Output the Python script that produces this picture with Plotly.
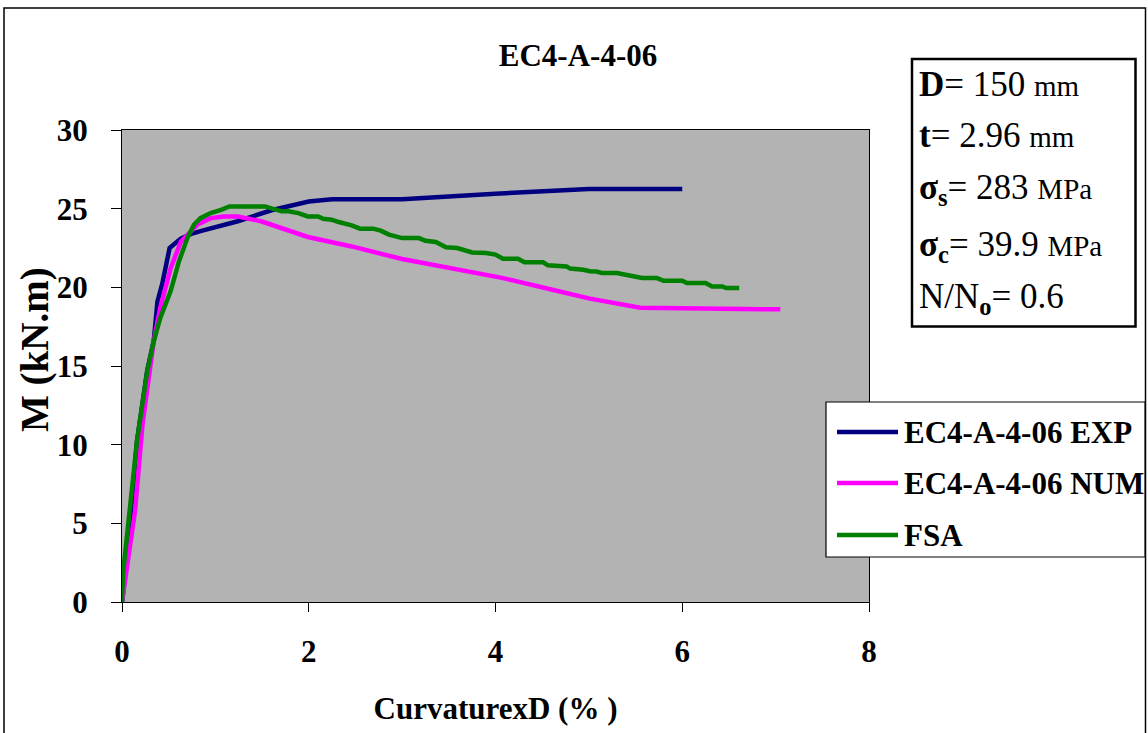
import plotly.graph_objects as go

# ---- data ----
x_exp = [0, 0.05, 0.16, 0.27, 0.34, 0.38, 0.43, 0.51, 0.63, 0.74, 0.86, 0.99, 1.24, 1.6, 2.0, 2.25, 3.0, 4.0, 5.0, 6.0]
y_exp = [0, 2.5, 10.2, 14.7, 16.6, 19.1, 20.2, 22.5, 23.1, 23.4, 23.6, 23.8, 24.2, 24.9, 25.45, 25.6, 25.6, 25.95, 26.25, 26.25]

x_num = [0, 0.14, 0.22, 0.34, 0.41, 0.52, 0.63, 0.81, 0.95, 1.09, 1.24, 1.49, 1.99, 2.46, 3.0, 3.54, 4.07, 4.61, 5.0, 5.55, 6.05, 7.05]
y_num = [0, 5.8, 11.3, 16.6, 18.7, 21.2, 22.9, 24.0, 24.4, 24.5, 24.5, 24.2, 23.2, 22.6, 21.8, 21.2, 20.6, 19.85, 19.3, 18.7, 18.65, 18.6]

x_fsa = [0, 0.01, 0.16, 0.27, 0.34, 0.41, 0.52, 0.61, 0.70, 0.77, 0.84, 0.95, 1.06, 1.15, 1.53, 1.71, 1.78, 1.89,
         1.99, 2.10, 2.155, 2.245, 2.32, 2.46, 2.55, 2.69, 2.77, 2.86, 3.0, 3.18, 3.25, 3.36, 3.47, 3.59, 3.75,
         3.90, 4.0, 4.08, 4.24, 4.31, 4.51, 4.56, 4.76, 4.80, 4.94, 5.01, 5.08, 5.14, 5.30, 5.57, 5.73, 5.80,
         6.0, 6.05, 6.25, 6.32, 6.43, 6.47, 6.61]
y_fsa = [0, 1.76, 10.2, 14.67, 16.57, 18.05, 19.75, 21.65, 23.13, 23.98, 24.4, 24.72, 24.93, 25.14, 25.14, 24.83,
         24.83, 24.72, 24.51, 24.51, 24.36, 24.30, 24.15, 23.94, 23.73, 23.73, 23.6, 23.35, 23.13, 23.13, 22.96,
         22.88, 22.54, 22.5, 22.22, 22.18, 22.08, 21.82, 21.82, 21.6, 21.6, 21.4, 21.33, 21.19, 21.12, 21.02,
         21.0, 20.91, 20.91, 20.59, 20.59, 20.42, 20.42, 20.27, 20.27, 20.06, 20.06, 19.96, 19.96]

series_names = ["EC4-A-4-06 EXP", "EC4-A-4-06 NUM", "FSA"]
series_colors = ["#000080", "#FF00FF", "#008000"]
x_ticks = [0, 2, 4, 6, 8]
y_ticks = [0, 5, 10, 15, 20, 25, 30]

FONT = "Liberation Serif"
U = "<span style=\"font-family:Liberation Serif;font-size:29px\">"
S = "<span style=\"font-family:Liberation Serif\">"
info_lines = [
    S + "<b>D</b>= 150 </span>" + U + "mm</span>",
    S + "<b>t</b>= 2.96 </span>" + U + "mm</span>",
    S + "<b>σ<sub>s</sub></b>= 283 </span>" + U + "MPa</span>",
    S + "<b>σ<sub>c</sub></b>= 39.9 </span>" + U + "MPa</span>",
    S + "N/N<sub><b>o</b></sub>= 0.6</span>",
]

fig = go.Figure()
for xs, ys, name, col in zip([x_exp, x_num, x_fsa], [y_exp, y_num, y_fsa], series_names, series_colors):
    fig.add_trace(go.Scatter(x=xs, y=ys, mode="lines", name=name,
                             line=dict(color=col, width=4.5), showlegend=False))

W, H = 1148, 733
L, R, T, B = 122, 279, 130, 131
pw, ph = W - L - R, H - T - B

def px(x):
    return (x - L) / pw

def py(y):
    return (H - B - y) / ph

shapes = []
# outer frame
shapes.append(dict(type="rect", xref="paper", yref="paper", x0=px(4), x1=px(1145.5), y0=py(745), y1=py(8),
                   line=dict(color="black", width=1.5), fillcolor="rgba(0,0,0,0)", layer="above"))
# info box
shapes.append(dict(type="rect", xref="paper", yref="paper", x0=px(912), x1=px(1135.5), y0=py(326.5), y1=py(59),
                   line=dict(color="black", width=2.5), fillcolor="white", layer="above"))
# legend box
shapes.append(dict(type="rect", xref="paper", yref="paper", x0=px(826), x1=px(1145), y0=py(557), y1=py(402),
                   line=dict(color="black", width=1.2), fillcolor="white", layer="above"))
leg_y = [432, 483, 535]
annotations = []
for name, col, yy in zip(series_names, series_colors, leg_y):
    shapes.append(dict(type="line", xref="paper", yref="paper", x0=px(837), x1=px(898), y0=py(yy), y1=py(yy),
                       line=dict(color=col, width=4.5), layer="above"))
    annotations.append(dict(xref="paper", yref="paper", x=px(902), y=py(yy), xanchor="left", yanchor="middle",
                            text="<b>" + name + "</b>", showarrow=False,
                            font=dict(family=FONT, size=31, color="black")))

info_y = [84, 135, 189, 246, 298]
for t, yy in zip(info_lines, info_y):
    annotations.append(dict(xref="paper", yref="paper", x=px(917), y=py(yy), xanchor="left", yanchor="middle",
                            text=t, showarrow=False, font=dict(family=FONT, size=35, color="black")))

# y axis title
annotations.append(dict(xref="paper", yref="paper", x=px(35), y=py(350), xanchor="center", yanchor="middle",
                        text="<b>M (kN.m)</b>", textangle=-90, showarrow=False,
                        font=dict(family=FONT, size=39, color="black")))

fig.update_layout(
    width=W, height=H,
    margin=dict(l=L, r=R, t=T, b=B),
    paper_bgcolor="white",
    plot_bgcolor="#B3B3B3",
    title=dict(text="<b>EC4-A-4-06</b>", x=578 / W, xref="container", xanchor="center",
               y=1 - 55 / H, yref="container", yanchor="middle",
               font=dict(family=FONT, size=31, color="black")),
    xaxis=dict(range=[0, 8], tickvals=x_ticks, ticktext=[str(v) for v in x_ticks],
               ticks="outside", ticklen=9, tickcolor="black", tickwidth=1,
               showline=True, linecolor="black", linewidth=1, mirror=True,
               showgrid=False, zeroline=False, ticklabelstandoff=13,
               tickfont=dict(family=FONT, size=31, color="black", weight="bold"),
               title=dict(text="<b>CurvaturexD (% )</b>", standoff=29,
                          font=dict(family=FONT, size=31, color="black"))),
    yaxis=dict(range=[0, 30], tickvals=y_ticks, ticktext=[str(v) for v in y_ticks],
               ticks="outside", ticklen=10, tickcolor="black", tickwidth=1,
               showline=True, linecolor="black", linewidth=1, mirror=True,
               showgrid=False, zeroline=False, ticklabelstandoff=17,
               tickfont=dict(family=FONT, size=31, color="black", weight="bold")),
    shapes=shapes,
    annotations=annotations,
)

fig.write_html("out.html")
